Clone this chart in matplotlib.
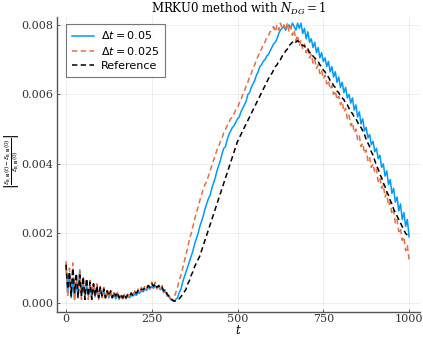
import numpy as np
import matplotlib
matplotlib.use("Agg")
import matplotlib.pyplot as plt

# time grid (step 5)
t = np.arange(0, 1001, 5)

# values in units of 1e-3
dt005 = [1.05, 0.3, 0.85, 0.15, 0.7, 0.1, 0.6, 0.2, 0.95, 0.2, 0.6, 0.15, 0.55, 0.2, 0.5, 0.15, 0.45, 0.2, 0.4, 0.15, 0.35,
         0.2, 0.35, 0.15, 0.3, 0.15, 0.3, 0.15, 0.25, 0.12, 0.22, 0.12, 0.2, 0.12, 0.2, 0.12, 0.2, 0.15, 0.22, 0.2, 0.25,
         0.22, 0.3, 0.28, 0.35, 0.32, 0.4, 0.36, 0.45, 0.4, 0.48, 0.42, 0.5, 0.42, 0.48, 0.38, 0.42, 0.3, 0.32, 0.2, 0.18, 0.1, 0.08, 0.05, 0.1,
         0.15, 0.3, 0.4, 0.6, 0.75, 0.9, 1.05, 1.2, 1.35, 1.5, 1.7, 1.85, 2.0, 2.2, 2.35, 2.5,
         2.7, 2.85, 3.0, 3.1, 3.3, 3.45, 3.6, 3.8, 3.95, 4.1, 4.3, 4.45, 4.5, 4.7, 4.85, 4.95, 5.05, 5.1, 5.2, 5.3,
         5.35, 5.5, 5.6, 5.7, 5.8, 6.0, 6.05, 6.2, 6.3, 6.4, 6.55, 6.65, 6.8, 6.85, 6.95, 7.0, 7.1, 7.15, 7.25, 7.35,
         7.45, 7.5, 7.6, 7.75, 7.85, 7.9, 7.95, 7.85, 7.95, 8.0, 7.9, 8.05, 7.95, 7.85, 8.05, 7.9, 8.05, 7.75, 7.9, 7.6,
         7.8, 7.5, 7.6, 7.35, 7.5, 7.2, 7.35, 7.05, 7.2, 6.95, 7.05, 6.8, 6.95, 6.65, 6.8, 6.5, 6.65, 6.35, 6.5, 6.2,
         6.35, 6.05, 6.2, 5.9, 6.0, 5.75, 5.9, 5.55, 5.7, 5.35, 5.5, 5.15, 5.3, 4.95, 5.05, 4.75, 4.85, 4.55, 4.65, 4.35,
         4.45, 4.15, 4.25, 3.9, 4.0, 3.65, 3.8, 3.4, 3.55, 3.15, 3.3, 2.9, 3.05, 2.65, 2.85, 2.4, 2.6, 2.2, 2.4, 1.9]

dt0025 = [1.2, 0.2, 1.0, 0.3, 1.15, 0.1, 0.8, 0.3, 0.95, 0.1, 0.75, 0.25, 0.7, 0.1, 0.65, 0.2, 0.6, 0.15, 0.55, 0.1, 0.5,
          0.15, 0.45, 0.1, 0.4, 0.15, 0.35, 0.1, 0.35, 0.15, 0.3, 0.1, 0.28, 0.12, 0.25, 0.1, 0.25, 0.15, 0.3, 0.2, 0.35,
          0.25, 0.4, 0.3, 0.45, 0.35, 0.5, 0.4, 0.55, 0.4, 0.6, 0.45, 0.6, 0.4, 0.55, 0.35, 0.5, 0.3, 0.4, 0.2, 0.25, 0.12, 0.1, 0.15, 0.3,
          0.45, 0.65, 0.8, 1.0, 1.2, 1.4, 1.6, 1.85, 2.0, 2.2, 2.4, 2.6, 2.75, 2.95, 3.1, 3.3,
          3.4, 3.5, 3.65, 3.8, 3.95, 4.1, 4.25, 4.4, 4.5, 4.65, 4.75, 4.9, 5.0, 5.1, 5.2, 5.3, 5.35, 5.45, 5.55, 5.6,
          5.75, 5.85, 6.0, 6.1, 6.25, 6.35, 6.5, 6.6, 6.75, 6.85, 7.0, 7.1, 7.25, 7.3, 7.45, 7.5, 7.65, 7.7, 7.8, 7.85,
          7.95, 7.8, 8.0, 7.85, 8.05, 7.9, 8.0, 7.85, 8.05, 7.8, 7.95, 7.7, 7.85, 7.55, 7.7, 7.4, 7.55, 7.3, 7.45, 7.2,
          7.35, 7.05, 7.15, 6.9, 7.0, 6.75, 6.85, 6.6, 6.7, 6.45, 6.55, 6.3, 6.4, 6.15, 6.25, 6.0, 6.1, 5.85, 5.95, 5.7,
          5.8, 5.5, 5.6, 5.3, 5.4, 5.1, 5.2, 4.9, 5.0, 4.7, 4.8, 4.5, 4.6, 4.3, 4.4, 4.1, 4.2, 3.9, 4.0, 3.75,
          3.85, 3.5, 3.6, 3.3, 3.4, 3.05, 3.15, 2.8, 2.9, 2.55, 2.65, 2.3, 2.4, 2.05, 2.15, 1.8, 1.9, 1.5, 1.65, 1.25]

reference = [1.1, 0.4, 0.9, 0.2, 1.0, 0.3, 0.85, 0.15, 0.8, 0.2, 0.75, 0.1, 0.7, 0.2, 0.6, 0.1, 0.55, 0.2, 0.5, 0.15, 0.45,
             0.2, 0.4, 0.15, 0.35, 0.2, 0.35, 0.15, 0.3, 0.2, 0.3, 0.15, 0.25, 0.15, 0.25, 0.15, 0.25, 0.2, 0.28, 0.22, 0.3,
             0.28, 0.35, 0.32, 0.4, 0.38, 0.45, 0.42, 0.5, 0.45, 0.55, 0.48, 0.55, 0.45, 0.5, 0.42, 0.45, 0.35, 0.38, 0.25, 0.2, 0.12, 0.08, 0.05, 0.06,
             0.08, 0.12, 0.18, 0.25, 0.32, 0.4, 0.55, 0.65, 0.8, 0.9, 1.05, 1.15, 1.25, 1.35, 1.5, 1.65,
             1.8, 1.95, 2.1, 2.25, 2.4, 2.55, 2.7, 2.85, 3.0, 3.15, 3.3, 3.45, 3.6, 3.75, 3.9, 4.05, 4.2, 4.35, 4.5, 4.65,
             4.75, 4.85, 4.95, 5.05, 5.15, 5.25, 5.35, 5.45, 5.55, 5.65, 5.75, 5.85, 5.95, 6.05, 6.15, 6.25, 6.35, 6.45, 6.55, 6.6,
             6.7, 6.8, 6.85, 6.95, 7.0, 7.1, 7.15, 7.25, 7.3, 7.4, 7.45, 7.5, 7.55, 7.5, 7.55, 7.5, 7.45, 7.4, 7.4, 7.3,
             7.3, 7.2, 7.2, 7.1, 7.05, 7.0, 6.95, 6.85, 6.8, 6.7, 6.65, 6.55, 6.5, 6.4, 6.35, 6.25, 6.2, 6.1, 6.05, 5.95,
             5.9, 5.85, 5.75, 5.7, 5.6, 5.5, 5.45, 5.35, 5.3, 5.2, 5.1, 5.05, 4.95, 4.85, 4.7, 4.6, 4.5, 4.35, 4.25, 4.1,
             3.95, 3.85, 3.7, 3.6, 3.45, 3.35, 3.2, 3.1, 2.95, 2.85, 2.7, 2.6, 2.5, 2.4, 2.3, 2.2, 2.1, 2.0, 1.95, 1.9]

labels = [r"$\Delta t = 0.05$", r"$\Delta t = 0.025$", "Reference"]
xticks = [0, 250, 500, 750, 1000]
yticks = [0.000, 0.002, 0.004, 0.006, 0.008]

scale = 1e-3
fig = plt.figure(figsize=(4.23, 3.38), dpi=100)
ax = fig.add_axes([0.135, 0.077, 0.858, 0.873])

ax.plot(t, np.array(dt005) * scale, color="#009AFA", lw=1.1, label=labels[0])
ax.plot(t, np.array(dt0025) * scale, color="#E36F47", lw=1.1, ls=(0, (3.5, 2.2)), label=labels[1])
ax.plot(t, np.array(reference) * scale, color="black", lw=1.1, ls=(0, (3.5, 2.2)), label=labels[2])

ax.set_xlim(-26, 1032)
ax.set_ylim(-0.00026, 0.00823)
ax.set_xticks(xticks)
ax.set_yticks(yticks)
ax.set_xticklabels([str(v) for v in xticks], family="DejaVu Serif", fontsize=8)
ax.set_yticklabels([f"{v:.3f}" for v in yticks], family="DejaVu Serif", fontsize=8)
ax.grid(True, color="#000000", alpha=0.08, lw=0.6)
ax.tick_params(direction="in", length=2.5, width=0.6, colors="#444444", labelcolor="#333333")
ax.tick_params(axis="x", pad=1.5)
ax.tick_params(axis="y", pad=3)
for s in ["top", "right"]:
    ax.spines[s].set_visible(False)
for s in ["left", "bottom"]:
    ax.spines[s].set_color("#555555")
    ax.spines[s].set_linewidth(1.0)

ax.set_title(r"MRKU0 method with $N_{DG} = 1$", family="DejaVu Serif", fontsize=8.5,
             math_fontfamily="dejavuserif", pad=3)
ax.set_xlabel(r"$t$", fontsize=8.5, math_fontfamily="dejavuserif", labelpad=0)
ax.set_ylabel(r"$\left|\frac{\mathcal{E}_{\mathbf{E},\mathbf{B}}(t)-\mathcal{E}_{\mathbf{E},\mathbf{B}}(0)}{\mathcal{E}_{\mathbf{E},\mathbf{B}}(0)}\right|$",
              fontsize=5.8, math_fontfamily="dejavuserif")
ax.yaxis.set_label_coords(-0.097, 0.51)

leg = ax.legend(loc="upper left", fontsize=8, frameon=True, fancybox=False,
                edgecolor="#555555", handlelength=2.0, handletextpad=0.6, borderpad=0.5,
                labelspacing=0.35, bbox_to_anchor=(0.01, 0.995))
leg.get_frame().set_linewidth(0.8)
for txt in leg.get_texts():
    txt.set_math_fontfamily("dejavusans")

fig.savefig("out.png", dpi=100)
